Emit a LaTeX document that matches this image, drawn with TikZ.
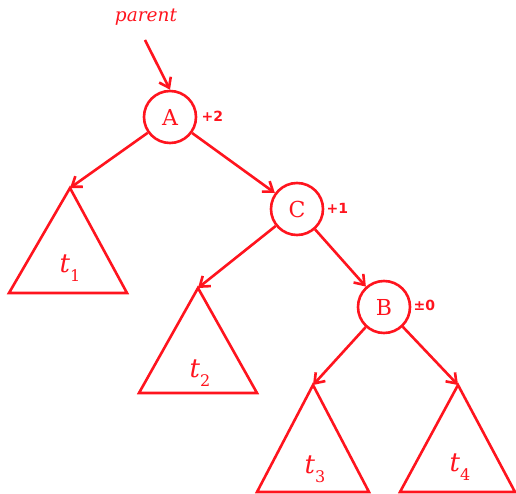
\documentclass[tikz,border=0pt]{standalone}
\usepackage{fontspec}
\setmainfont{DejaVu Serif}
\setsansfont{DejaVu Sans}
\usetikzlibrary{arrows.meta}
\definecolor{tred}{RGB}{255,20,30}
\newcommand{\sublab}[2]{\textit{#1}\raisebox{-0.35em}{\fontsize{16}{18}\selectfont #2}}
\begin{document}
\begin{tikzpicture}[x=1pt,y=-1pt,
  vtx/.style={circle,draw=tred,line width=2.6pt,minimum size=52pt,inner sep=0pt,text=tred,font=\fontsize{22}{26}\selectfont},
  bal/.style={text=tred,font=\fontsize{14}{16}\selectfont\bfseries\sffamily,anchor=west},
  tri/.style={draw=tred,line width=2.6pt,line join=miter},
  tlab/.style={text=tred,font=\fontsize{26}{30}\selectfont},
  edge/.style={draw=tred,line width=2.6pt,-{Straight Barb[length=9pt,width=13pt,line width=2.6pt]}}]
\useasboundingbox (0,0) rectangle (516,494);
\node[text=tred,font=\fontsize{18.5}{22}\selectfont\itshape] (p) at (146,17) {parent};
\node[vtx] (A) at (170,117) {A};
\node[vtx] (C) at (297,209) {C};
\node[vtx] (B) at (384,307) {B};
\node[bal] (bA) at (198,116) {+2};
\node[bal] (bC) at (323,208) {+1};
\node[bal] (bB) at (410,305) {±0};
\coordinate (pt) at (145,40);
\coordinate (t1) at (70,188);
\coordinate (t2) at (198,288);
\coordinate (t3) at (313,385);
\coordinate (t4) at (458,385);
\draw[tri] (t1) -- (9,293) -- (127,293) -- cycle;
\draw[tri] (t2) -- (139,393) -- (257,393) -- cycle;
\draw[tri] (t3) -- (257,492) -- (369,492) -- cycle;
\draw[tri] (t4) -- (400,492) -- (515,492) -- cycle;
\node[tlab] at (70,268) {\sublab{t}{1}};
\node[tlab] at (200,373) {\sublab{t}{2}};
\node[tlab] at (315,469) {\sublab{t}{3}};
\node[tlab] at (460,467) {\sublab{t}{4}};
\draw[edge] (pt) -- (A.north);
\draw[edge] (A) -- (t1);
\draw[edge] (A) -- (C);
\draw[edge] (C) -- (t2);
\draw[edge] (C) -- (B);
\draw[edge] (B) -- (t3);
\draw[edge] (B) -- (t4);
\end{tikzpicture}
\end{document}
